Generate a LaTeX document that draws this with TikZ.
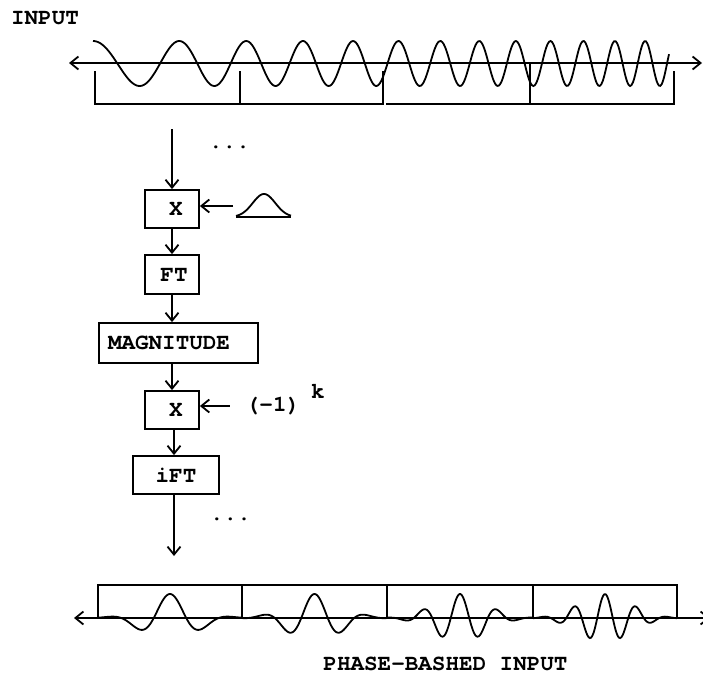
\documentclass[tikz,border=0pt]{standalone}
\usepackage{fontspec}
\setmonofont{texgyrecursor}[Extension=.otf,UprightFont=*-regular,BoldFont=*-bold]
\usetikzlibrary{arrows.meta}

\begin{document}
\begin{tikzpicture}[x=1pt,y=-1pt,line width=1.8pt,
  every node/.style={font=\ttfamily\bfseries\fontsize{22.6}{22.6}\selectfont,inner sep=0pt},
  tip/.style={-{Straight Barb[length=8pt,width=13pt]}},
  tipboth/.style={{Straight Barb[length=8pt,width=13pt]}-{Straight Barb[length=8pt,width=13pt]}},
  box/.style={draw,minimum height=38pt}]
  \useasboundingbox (0,0) rectangle (703,675);
  \clip (0,0) rectangle (703,675);

  \node (inp) at (45,18) {INPUT};
  \draw[tipboth] (69,63) -- (702,63);
  \draw plot[domain=93:669,samples=400,smooth] (\x,{63.5-22.5*cos(360*(0.009727*(\x-93)+0.2176*((\x-93)/100)^2))});
  \draw (95,71) -- (95,104) -- (383,104) -- (383,71);
  \draw (386,104) -- (674,104) -- (674,71);
  \draw (240,71) -- (240,104);
  \draw (530,63) -- (530,104);

  \coordinate (top) at (172,129);
  \node[box,minimum width=54pt] (mulA) at (172,209) {\hspace{8pt}X};
  \node[box,minimum width=54pt,minimum height=39pt] (ft) at (172,274.5) {\hspace{4pt}FT};
  \node[box,text width=141pt,inner xsep=9pt,minimum height=40pt,align=left] (mag) at (178.5,343) {MAGNITUDE};
  \node[box,minimum width=54pt] (mulB) at (172,410) {\hspace{8pt}X};
  \node[box,minimum width=86pt] (ift) at (176,475) {iFT};
  \coordinate (bot) at (174,556);
  \node (dotsA) at (229.5,147) {...};
  \node (dotsB) at (230.5,519) {...};

  \draw[tip] (top) -- (mulA);
  \draw[tip] (mulA) -- (ft);
  \draw[tip] (ft) -- (ft |- mag.north);
  \draw[tip] (mag.south -| mulB) -- (mulB);
  \draw[tip] (mulB.south -| bot) -- (ift.north -| bot);
  \draw[tip] (ift.south -| bot) -- (bot);

  \draw (236,217) -- (291,217);
  \draw plot[domain=236:291,samples=60,smooth] (\x,{217-23*exp(-((\x-264)/16)^2)});
  \coordinate (win) at (233,206);
  \draw[tip] (win) -- (win -| mulA.east);

  \node (sgn) at (273,406) {(-1)};
  \node (kk) at (318,391) {k};
  \draw[tip] ([xshift=-15pt]sgn.west) -- (sgn.west -| mulB.east);

  \draw[tipboth] (74,618) -- (710,618);
  \draw (98,618) -- (98,585) -- (677,585) -- (677,618);
  \foreach \b in {242,387,533}
    \draw (\b,585) -- (\b,618);
  \foreach \c/\T in {170/65,314.5/53,460/37,605/31}
    \draw plot[domain=-72:72,samples=120,smooth] ({\c+\x},{618-24*exp(-((\x/36)^2))*cos(360/\T*\x)});
  \node (out) at (445.5,663.5) {PHASE-BASHED INPUT};
\end{tikzpicture}
\end{document}
